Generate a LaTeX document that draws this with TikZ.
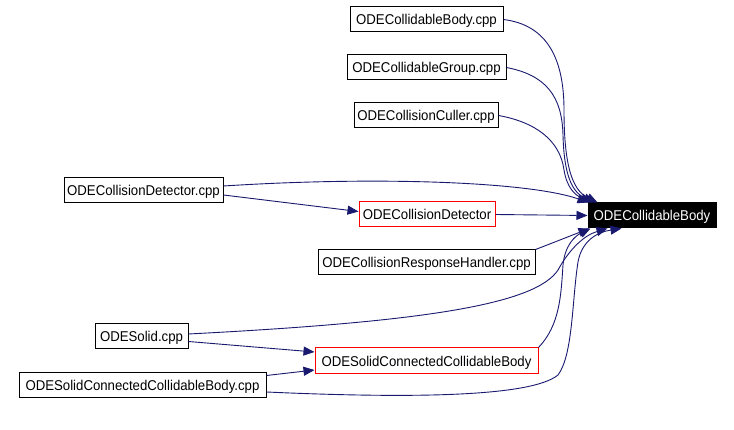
\documentclass[tikz,border=0pt]{standalone}
\usepackage{fontspec}
\setmainfont[FakeStretch=0.93]{Liberation Sans}
\usetikzlibrary{arrows.meta}
\definecolor{edgeblue}{HTML}{191970}
\definecolor{boxred}{HTML}{FF0000}
\tikzset{
  box/.style={draw=black, line width=1pt, fill=white, minimum height=25pt, inner sep=0pt,
    text height=10.2pt, text depth=0pt, font=\fontsize{14.2}{16}\selectfont},
  redbox/.style={box, draw=boxred},
  target/.style={box, draw=black, fill=black, text=white},
  dep/.style={draw=edgeblue, line width=0.9pt, -{Triangle[length=11pt,width=9pt]}, fill=none},
}
\begin{document}
\begin{tikzpicture}[x=1pt,y=-1pt]
\useasboundingbox[fill=white] (0,0) rectangle (734,430);
\node[box, minimum width=153pt] (cbcpp) at (426.5,19.5) {ODECollidableBody.cpp};
\node[box, minimum width=159pt] (cgcpp) at (426.5,67.5) {ODECollidableGroup.cpp};
\node[box, minimum width=144pt] (cccpp) at (426,115.5) {ODECollisionCuller.cpp};
\node[box, minimum width=159pt] (cdcpp) at (143.5,190.5) {ODECollisionDetector.cpp};
\node[redbox, minimum width=136pt] (cd) at (427,214.5) {ODECollisionDetector};
\node[target, minimum width=128pt] (body) at (652,215.5) {ODECollidableBody};
\node[box, minimum width=217pt] (crhcpp) at (426.5,262.5) {ODECollisionResponseHandler.cpp};
\node[box, minimum width=93pt] (solidcpp) at (141.5,336.5) {ODESolid.cpp};
\node[redbox, minimum width=223pt, minimum height=26pt] (sccb) at (426.5,361) {ODESolidConnectedCollidableBody};
\node[box, minimum width=247pt] (sccbcpp) at (142.5,385.5) {ODESolidConnectedCollidableBody.cpp};

\draw[dep] (cbcpp.east) .. controls (548,25) and (564,60) .. (564,110)
  .. controls (564,165) and (572,190) .. ([xshift=10pt]body.north west);
\draw[dep] (cgcpp.east) .. controls (545,75) and (562,95) .. (563,135)
  .. controls (564,175) and (572,192) .. ([xshift=7pt]body.north west);
\draw[dep] (cccpp.east) .. controls (535,122) and (560,140) .. (564,170)
  .. controls (567,188) and (575,195) .. ([xshift=4pt]body.north west);
\draw[dep] ([yshift=4.5pt]cdcpp.east) .. controls (380,176) and (530,182) .. ([xshift=1pt]body.north west);
\draw[dep] ([yshift=-4.5pt]cdcpp.east) -- ([yshift=3pt]cd.west);
\draw[dep] (cd.east) -- (body.west);
\draw[dep] (crhcpp.north east) .. controls (555,242) and (570,236) .. ([xshift=2pt]body.south west);
\draw[dep] ([yshift=2.5pt]solidcpp.east) .. controls (420,322) and (535,305) .. (558,270)
  .. controls (570,248) and (585,235) .. ([xshift=20pt]body.south west);
\draw[dep] (sccb.north east) .. controls (560,325) and (561,295) .. (563,265)
  .. controls (565,245) and (575,236) .. ([xshift=3pt]body.south west);
\draw[dep] ([yshift=-6.5pt]sccbcpp.east) .. controls (400,398) and (530,398) .. (558,375)
  .. controls (573,355) and (572,300) .. (578,262)
  .. controls (582,240) and (598,232) .. ([xshift=34pt]body.south west);
\draw[dep] ([yshift=-5pt]solidcpp.east) -- ([yshift=9pt]sccb.west);
\draw[dep] ([yshift=10pt]sccbcpp.east) -- ([yshift=-9pt]sccb.west);
\end{tikzpicture}
\end{document}
